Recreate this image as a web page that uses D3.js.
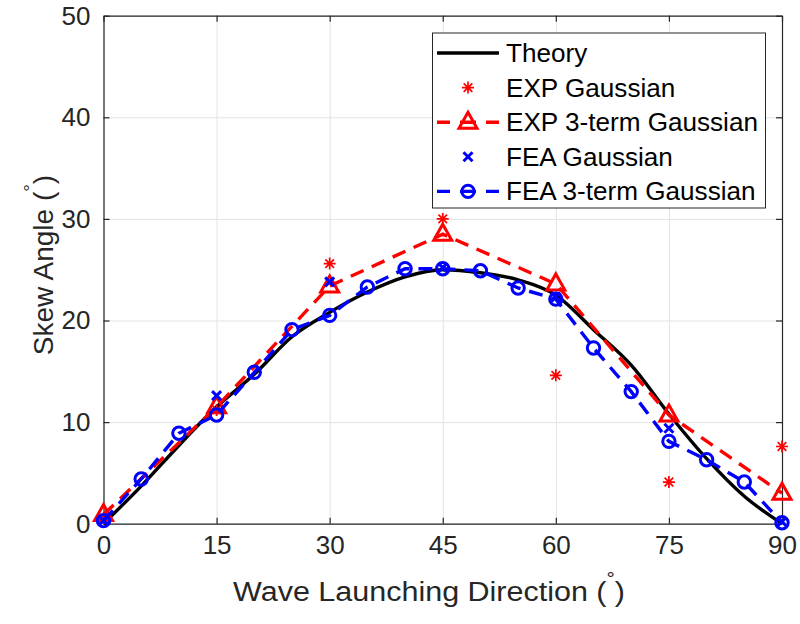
<!DOCTYPE html>
<html>
<head>
<meta charset="utf-8">
<script src="https://cdn.jsdelivr.net/npm/d3@7"></script>
<style>
  body { margin: 0; background: #fff; }
  text { font-family: "Liberation Sans", Arial, Helvetica, sans-serif; fill: #262626; }
</style>
</head>
<body>
<div id="main"></div>
<script>
const w = 800, h = 624;
const plotLeft = 103.5, plotRight = 782, plotTop = 15.7, plotBottom = 523.7;

// values
const theoryAngles = [0, 5, 10, 15, 20, 25, 30, 35, 40, 45, 50, 55, 60, 65, 70, 75, 80, 85, 90];
const theoryValues = [0, 3.7, 7.7, 11.5, 14.7, 18.4, 20.8, 22.8, 24.3, 25.0, 24.7, 24.0, 22.5, 19.1, 15.6, 10.8, 6.4, 2.7, 0];
const feaFitAngles = [0, 5, 10, 15, 20, 25, 30, 35, 40, 45, 50, 55, 60, 65, 70, 75, 80, 85, 90];
const feaFitValues = [0.3, 4.4, 8.9, 10.7, 14.9, 19.1, 20.5, 23.3, 25.1, 25.1, 24.9, 23.2, 22.1, 17.3, 13.0, 8.1, 6.3, 4.1, 0.1];
const expAngles = [0, 15, 30, 45, 60, 75, 90];
const expGaussValues = [0.5, 11.2, 25.6, 30.0, 14.6, 4.1, 7.6];
const expFitValues = [0.9, 11.5, 23.4, 28.5, 23.6, 10.7, 3.0];
const feaGaussValues = [0.3, 12.6, 23.8, 25.2, 22.3, 9.4, 0.2];
const xTicks = [0, 15, 30, 45, 60, 75, 90];
const yTicks = [0, 10, 20, 30, 40, 50];
const legendLabels = ['Theory', 'EXP Gaussian', 'EXP 3-term Gaussian', 'FEA Gaussian', 'FEA 3-term Gaussian'];

const zip = (xs, ys) => xs.map((x, i) => [x, ys[i]]);

const svg = d3.select('#main')
  .append('svg')
  .attr('width', w)
  .attr('height', h);

svg.append('rect').attr('width', w).attr('height', h).attr('fill', '#fff');

const xScale = d3.scaleLinear().domain([0, 90]).range([plotLeft, plotRight]);
const yScale = d3.scaleLinear().domain([0, 50]).range([plotBottom, plotTop]);

// grid
svg.append('g')
  .attr('transform', 'translate(0,' + plotBottom + ')')
  .call(d3.axisBottom(xScale).tickValues(xTicks).tickSize(-(plotBottom - plotTop)).tickFormat(''))
  .call(g => g.select('.domain').remove())
  .call(g => g.selectAll('line').attr('stroke', '#e3e3e3').attr('stroke-width', 1));
svg.append('g')
  .attr('transform', 'translate(' + plotLeft + ',0)')
  .call(d3.axisLeft(yScale).tickValues(yTicks).tickSize(-(plotRight - plotLeft)).tickFormat(''))
  .call(g => g.select('.domain').remove())
  .call(g => g.selectAll('line').attr('stroke', '#e3e3e3').attr('stroke-width', 1));

// box + inward ticks
const styleAxis = g => {
  g.select('.domain').attr('stroke', '#262626').attr('stroke-width', 1.2);
  g.selectAll('line').attr('stroke', '#262626').attr('stroke-width', 1.2);
  g.selectAll('text').style('font-size', '26px').attr('fill', '#262626');
};
svg.append('g')
  .attr('transform', 'translate(0,' + plotBottom + ')')
  .call(d3.axisBottom(xScale).tickValues(xTicks).tickSize(-6).tickSizeOuter(0).tickPadding(12))
  .call(styleAxis);
svg.append('g')
  .attr('transform', 'translate(0,' + plotTop + ')')
  .call(d3.axisTop(xScale).tickValues(xTicks).tickSize(-6).tickSizeOuter(0).tickFormat(''))
  .call(styleAxis);
svg.append('g')
  .attr('transform', 'translate(' + plotLeft + ',0)')
  .call(d3.axisLeft(yScale).tickValues(yTicks).tickSize(-6).tickSizeOuter(0).tickPadding(13))
  .call(styleAxis);
svg.append('g')
  .attr('transform', 'translate(' + plotRight + ',0)')
  .call(d3.axisRight(yScale).tickValues(yTicks).tickSize(-6).tickSizeOuter(0).tickFormat(''))
  .call(styleAxis);

// axis labels with superscript degree circle
const degLabel = (sel, str) => {
  sel.append('tspan').text(str + '(');
  sel.append('tspan').text('°').style('font-size', '19px').attr('dy', -16);
  sel.append('tspan').text(')').attr('dy', 16);
};
svg.append('text')
  .attr('transform', 'translate(429,601) scale(1.09,1)')
  .attr('text-anchor', 'middle')
  .style('font-size', '28px')
  .call(degLabel, 'Wave Launching Direction ');
svg.append('text')
  .attr('transform', 'translate(53,265) rotate(-90)')
  .attr('text-anchor', 'middle')
  .style('font-size', '28px')
  .call(degLabel, 'Skew Angle ');

const plot = svg.append('g');

const line = d3.line().x(d => xScale(d[0])).y(d => yScale(d[1]));
const smooth = d3.line().x(d => xScale(d[0])).y(d => yScale(d[1])).curve(d3.curveMonotoneX);

// marker painters
const asterisk = (g, s) => {
  const r = s / 2, q = r * 0.72;
  g.append('path')
    .attr('d', `M${-r},0H${r}M0,${-r}V${r}M${-q},${-q}L${q},${q}M${-q},${q}L${q},${-q}`)
    .attr('stroke', '#ff0000').attr('stroke-width', 1.7).attr('fill', 'none');
};
const triangle = g => {
  g.append('path')
    .attr('d', 'M0,-10L9,6L-9,6Z')
    .attr('stroke', '#ff0000').attr('stroke-width', 3).attr('fill', 'none')
    .attr('stroke-linejoin', 'miter');
};
const cross = g => {
  g.append('path')
    .attr('d', 'M-4.5,-4.5L4.5,4.5M-4.5,4.5L4.5,-4.5')
    .attr('stroke', '#0000ff').attr('stroke-width', 3).attr('fill', 'none');
};
const circle = g => {
  g.append('circle').attr('r', 6.2)
    .attr('stroke', '#0000ff').attr('stroke-width', 3).attr('fill', 'none');
};

const drawMarkers = (data, painter) => {
  plot.append('g').selectAll('g')
    .data(data)
    .enter()
    .append('g')
    .attr('transform', d => 'translate(' + xScale(d[0]) + ',' + yScale(d[1]) + ')')
    .each(function () { painter(d3.select(this), 12); });
};

// Theory
plot.append('path')
  .datum(zip(theoryAngles, theoryValues))
  .attr('d', smooth)
  .attr('fill', 'none').attr('stroke', '#000').attr('stroke-width', 3.4);

// EXP Gaussian
drawMarkers(zip(expAngles, expGaussValues), asterisk);

// EXP 3-term Gaussian
plot.append('path')
  .datum(zip(expAngles, expFitValues))
  .attr('d', line)
  .attr('fill', 'none').attr('stroke', '#ff0000').attr('stroke-width', 3.4)
  .attr('stroke-dasharray', '14,9');
drawMarkers(zip(expAngles, expFitValues), triangle);

// FEA Gaussian
drawMarkers(zip(expAngles, feaGaussValues), cross);

// FEA 3-term Gaussian
plot.append('path')
  .datum(zip(feaFitAngles, feaFitValues))
  .attr('d', line)
  .attr('fill', 'none').attr('stroke', '#0000ff').attr('stroke-width', 3.4)
  .attr('stroke-dasharray', '14,9');
drawMarkers(zip(feaFitAngles, feaFitValues), circle);

// legend
const legend = svg.append('g').attr('id', 'legend');
legend.append('rect')
  .attr('x', 432.5).attr('y', 33)
  .attr('width', 333).attr('height', 175)
  .attr('fill', '#fff').attr('stroke', '#262626').attr('stroke-width', 1);

const rowY = i => 53 + i * 34.6;
const sampleX0 = 437, sampleX1 = 499, sampleMid = 468;
const rows = legend.selectAll('g.row')
  .data(legendLabels)
  .enter()
  .append('g')
  .attr('class', 'row')
  .attr('transform', (d, i) => 'translate(0,' + rowY(i) + ')');

rows.append('text')
  .attr('transform', 'translate(506,0) scale(1.045,1)')
  .attr('dy', '0.36em')
  .style('font-size', '25px')
  .style('fill', '#000')
  .text(d => d);

rows.each(function (d, i) {
  const g = d3.select(this);
  if (i === 0) {
    g.append('line').attr('x1', sampleX0).attr('x2', sampleX1)
      .attr('stroke', '#000').attr('stroke-width', 3.4);
  } else if (i === 1) {
    asterisk(g.append('g').attr('transform', 'translate(' + sampleMid + ',0)'), 12);
  } else if (i === 3) {
    cross(g.append('g').attr('transform', 'translate(' + sampleMid + ',0)'));
  } else {
    const col = i === 2 ? '#ff0000' : '#0000ff';
    g.append('line').attr('x1', sampleX0).attr('x2', sampleX1)
      .attr('stroke', col).attr('stroke-width', 3.4)
      .attr('stroke-dasharray', '13,10,16,10,13');
    const mg = g.append('g').attr('transform', 'translate(' + sampleMid + ',0)');
    if (i === 2) triangle(mg); else circle(mg);
  }
});
</script>
</body>
</html>
